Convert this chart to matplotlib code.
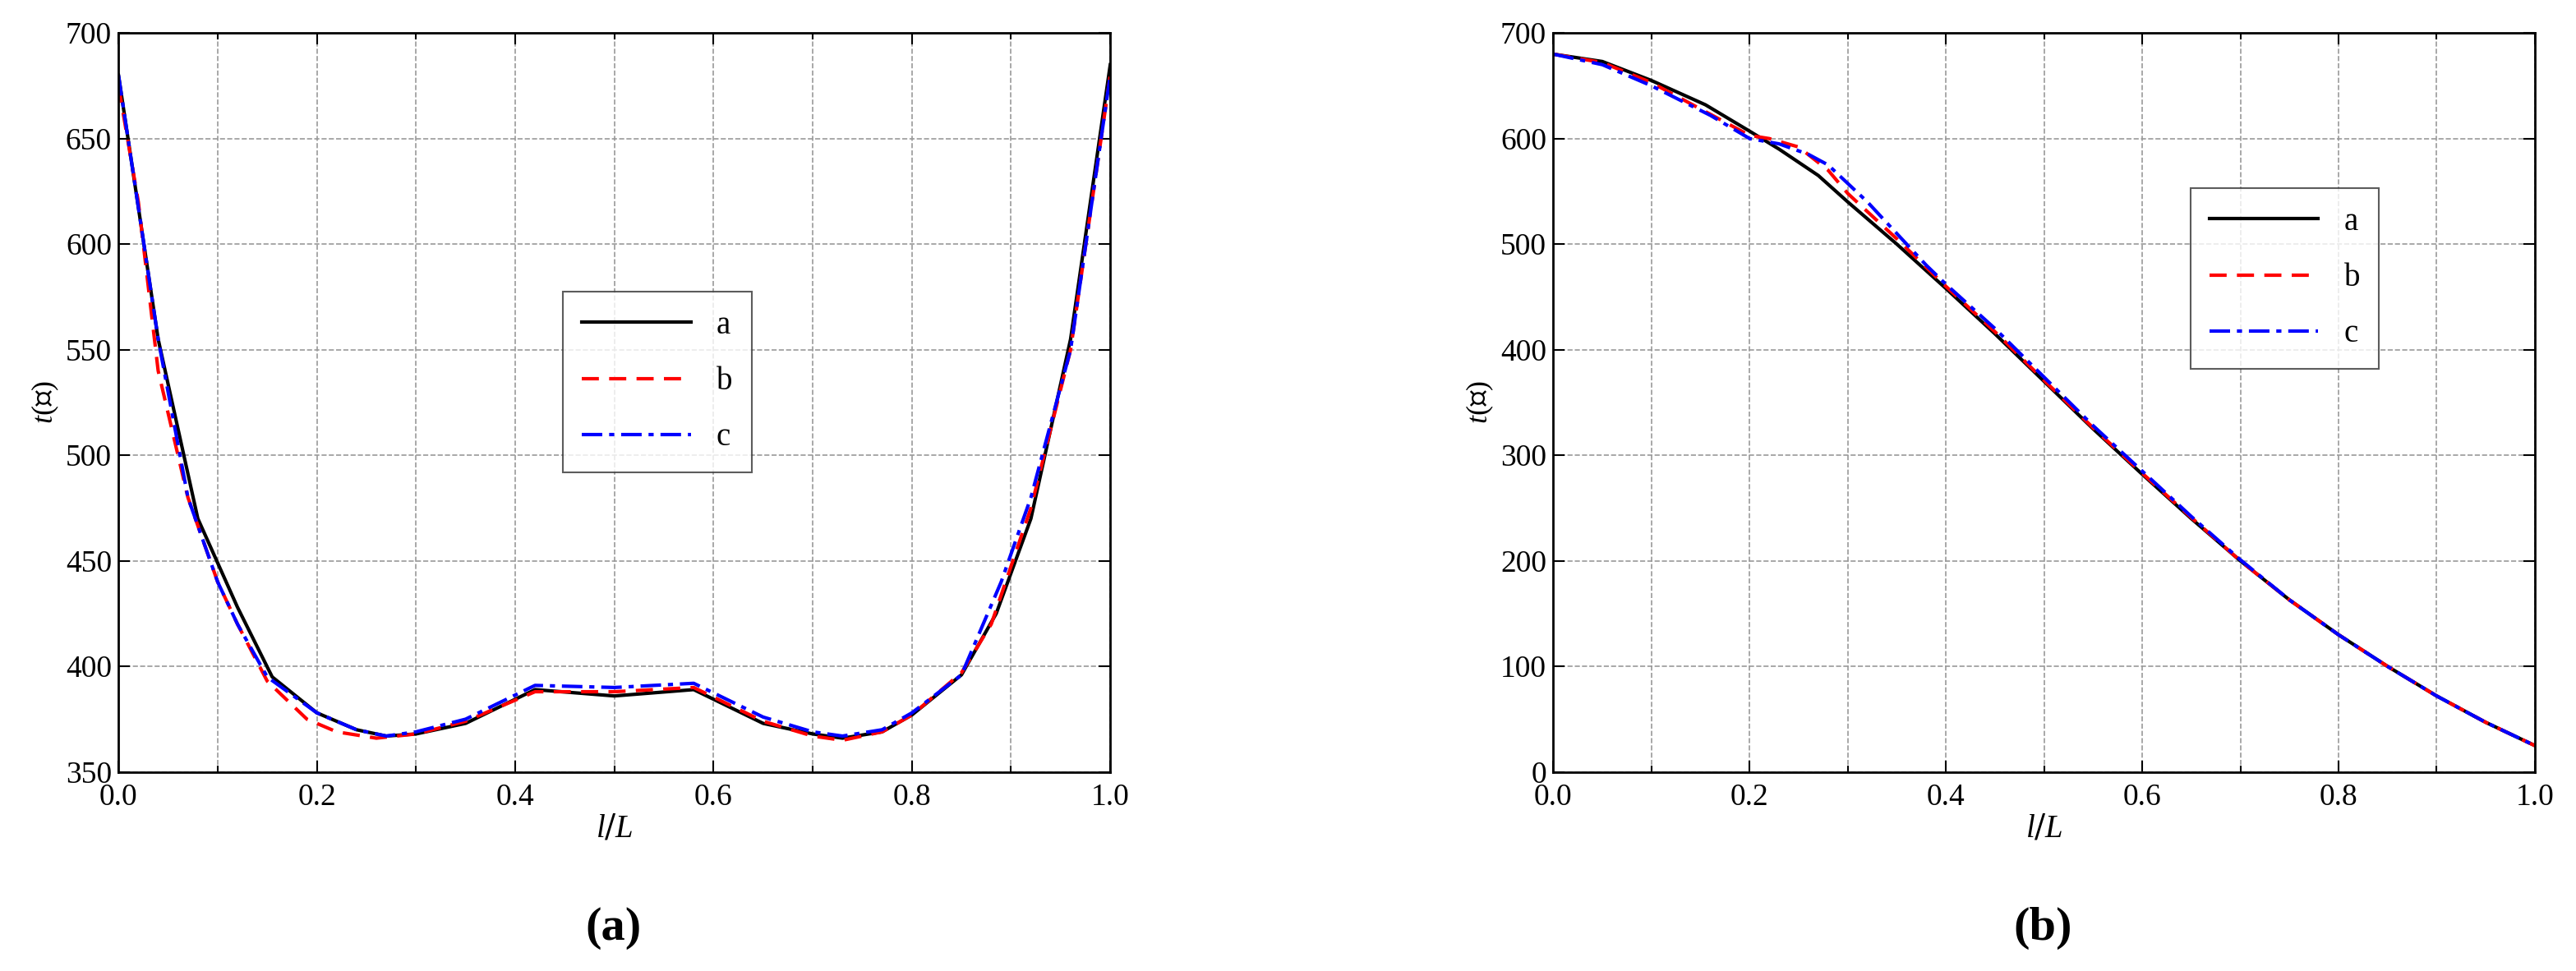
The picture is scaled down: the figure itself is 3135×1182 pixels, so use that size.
import numpy as np
import matplotlib
matplotlib.use("Agg")
import matplotlib.pyplot as plt

plt.rcParams['font.family'] = ['Liberation Serif', 'DejaVu Serif']
plt.rcParams['mathtext.fontset'] = 'custom'
plt.rcParams['mathtext.rm'] = 'DejaVu Serif'
plt.rcParams['mathtext.it'] = 'Liberation Serif:italic'

# panel (a)
xa_a = [0, 0.04, 0.08, 0.12, 0.155, 0.2, 0.24, 0.27, 0.3, 0.35, 0.42, 0.5, 0.58, 0.65, 0.7, 0.73, 0.77, 0.8, 0.85, 0.885, 0.92, 0.96, 1.0]
ya_a = [680, 555, 470, 428, 395, 378, 370, 367, 368, 373, 389, 386, 389, 373, 368, 366, 369, 377, 396, 425, 470, 555, 685]
xa_b = [0, 0.02, 0.04, 0.07, 0.1, 0.12, 0.15, 0.19, 0.22, 0.26, 0.3, 0.35, 0.42, 0.5, 0.58, 0.65, 0.7, 0.73, 0.77, 0.8, 0.85, 0.88, 0.92, 0.96, 1.0]
ya_b = [675, 620, 540, 480, 440, 420, 393, 375, 369, 366, 368, 374, 388, 388, 390, 374, 367, 365, 369, 377, 397, 420, 475, 550, 680]
xa_c = [0, 0.04, 0.07, 0.1, 0.12, 0.15, 0.2, 0.24, 0.27, 0.3, 0.35, 0.42, 0.5, 0.58, 0.65, 0.7, 0.73, 0.77, 0.8, 0.85, 0.89, 0.92, 0.96, 1.0]
ya_c = [680, 555, 480, 440, 420, 395, 378, 370, 367, 369, 375, 391, 390, 392, 376, 369, 367, 370, 378, 396, 440, 480, 550, 680]

# panel (b)
xb_a = [0, 0.05, 0.1, 0.155, 0.2, 0.23, 0.27, 0.3, 0.35, 0.4, 0.45, 0.5, 0.55, 0.6, 0.65, 0.7, 0.75, 0.8, 0.85, 0.9, 0.95, 1.0]
yb_a = [680, 673, 655, 632, 607, 590, 565, 540, 500, 458, 415, 370, 325, 282, 240, 200, 163, 130, 100, 72, 47, 25]
xb_b = [0, 0.05, 0.1, 0.15, 0.2, 0.22, 0.25, 0.28, 0.3, 0.35, 0.4, 0.45, 0.5, 0.55, 0.6, 0.65, 0.7, 0.75, 0.8, 0.85, 0.9, 0.95, 1.0]
yb_b = [680, 672, 653, 628, 603, 600, 592, 570, 548, 505, 460, 417, 371, 326, 283, 241, 200, 163, 130, 100, 72, 47, 25]
xb_c = [0, 0.05, 0.1, 0.16, 0.2, 0.23, 0.26, 0.28, 0.32, 0.38, 0.4, 0.45, 0.5, 0.55, 0.6, 0.65, 0.7, 0.75, 0.8, 0.85, 0.9, 0.95, 1.0]
yb_c = [680, 670, 650, 622, 600, 595, 585, 575, 540, 480, 462, 420, 374, 328, 285, 242, 201, 163, 130, 100, 72, 47, 25]

fig = plt.figure(figsize=(31.35, 11.82), dpi=100)
ax1 = fig.add_axes([0.046, 0.205, 0.385, 0.761])
ax2 = fig.add_axes([0.603, 0.205, 0.381, 0.761])

def style(ax, ylim, yticks, legpos):
    ax.set_xlim(0, 1)
    ax.set_ylim(*ylim)
    ax.set_xticks(np.arange(0, 1.01, 0.2))
    ax.set_xticks(np.arange(0.1, 1.0, 0.2), minor=True)
    ax.set_yticks(yticks)
    ax.grid(True, which='both', color='#999999', linestyle='--', linewidth=1.2)
    ax.tick_params(which='both', direction='in', top=True, right=True, labelsize=27, length=10, width=1.5)
    ax.tick_params(axis='x', pad=10)
    ax.tick_params(axis='y', pad=6)
    ax.tick_params(which='minor', length=6)
    for s in ax.spines.values():
        s.set_linewidth(2)
    ax.set_xlabel('$l/L$', fontsize=28, labelpad=2)
    ax.set_ylabel('$t$(℃)', fontsize=26, labelpad=4)
    leg = ax.legend(loc='upper left', bbox_to_anchor=legpos, fontsize=28, fancybox=False,
                    edgecolor='#333333', handlelength=3.4, borderpad=0.6, labelspacing=0.8)
    leg.get_frame().set_linewidth(1.5)

for ax, data in [(ax1, [(xa_a, ya_a), (xa_b, ya_b), (xa_c, ya_c)]),
                 (ax2, [(xb_a, yb_a), (xb_b, yb_b), (xb_c, yb_c)])]:
    ax.plot(*data[0], color='black', linewidth=3, label='a')
    ax.plot(*data[1], color='red', linewidth=3, linestyle=(0, (5, 3)), label='b')
    ax.plot(*data[2], color='blue', linewidth=3, linestyle=(0, (6, 2, 1.5, 2)), label='c')

style(ax1, (350, 700), np.arange(350, 701, 50), (0.432, 0.672))
style(ax2, (0, 700), np.arange(0, 701, 100), (0.633, 0.812))

fig.text(0.238, 0.044, '(a)', fontsize=42, fontweight='bold', ha='center', va='center')
fig.text(0.793, 0.044, '(b)', fontsize=42, fontweight='bold', ha='center', va='center')

fig.savefig('out.png', dpi=100)
